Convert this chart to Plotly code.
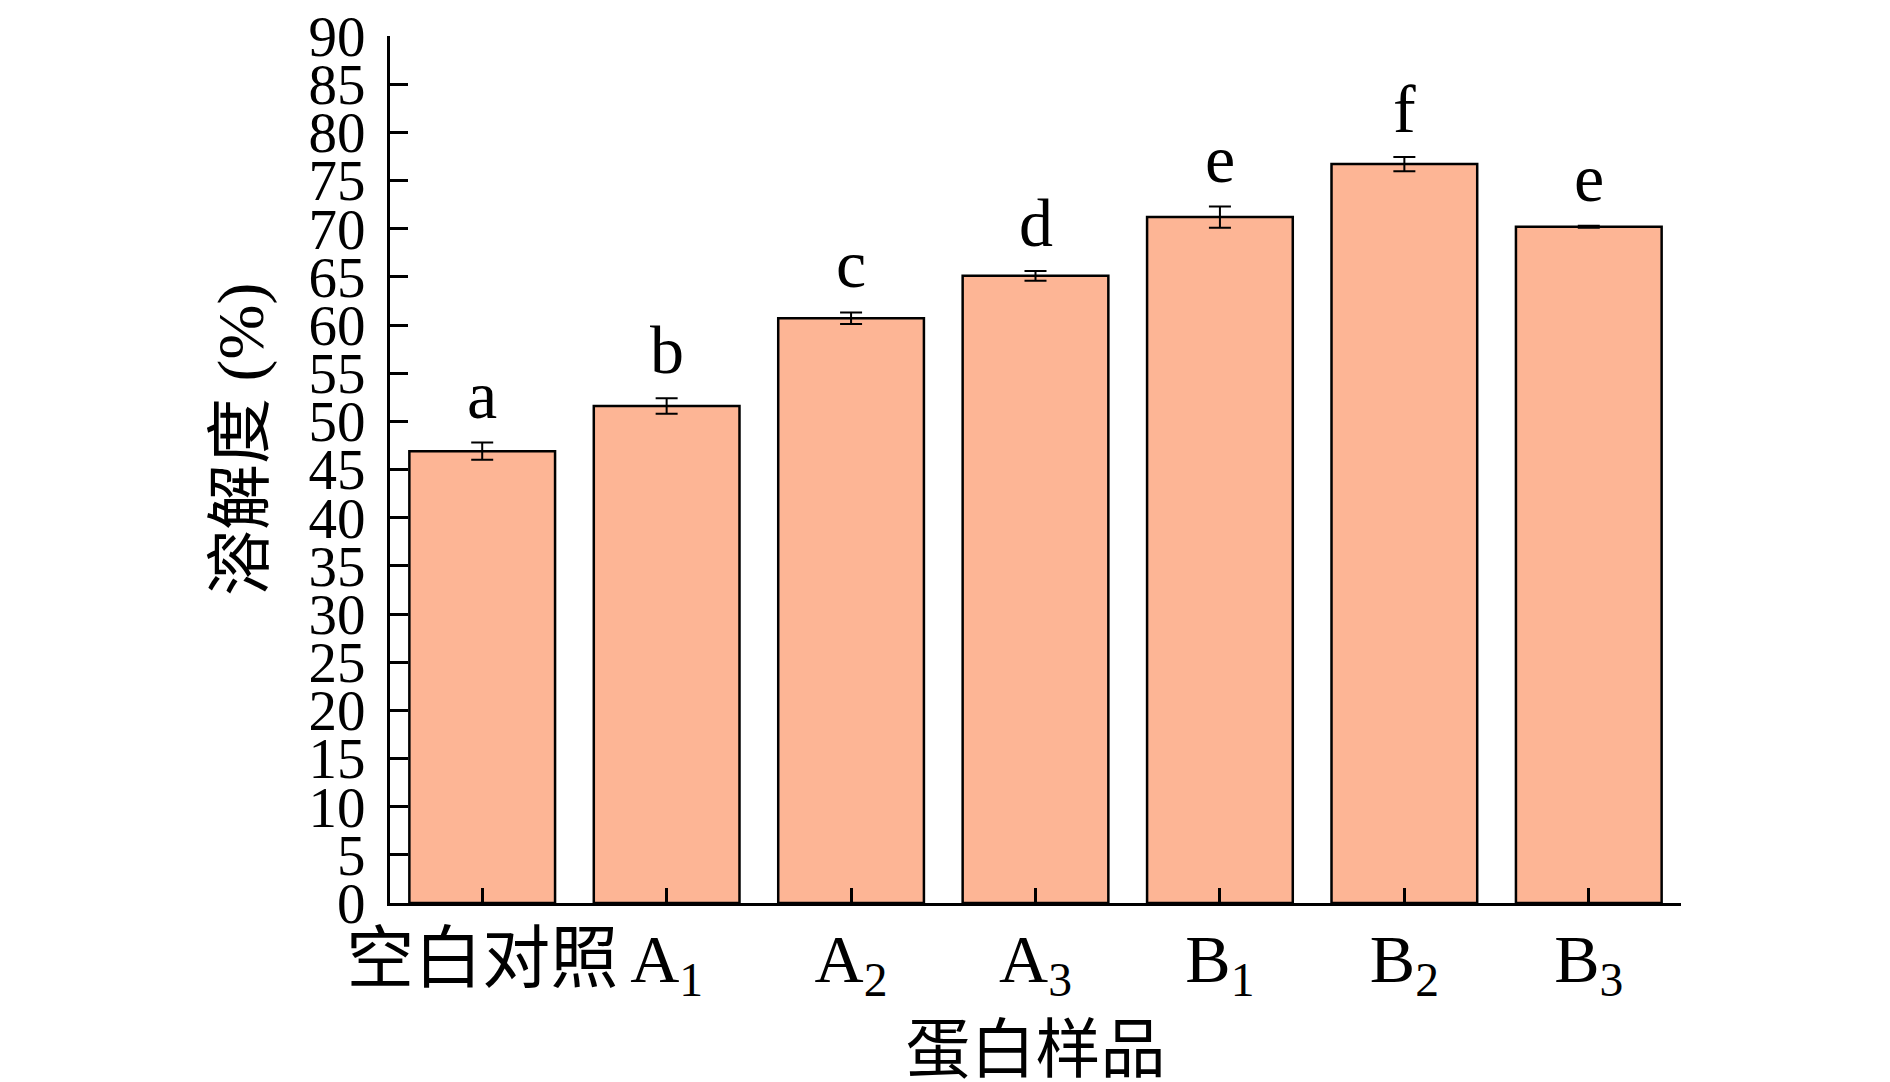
import plotly.graph_objects as go

# datos
muestras = ['空白对照', 'A<sub>1</sub>', 'A<sub>2</sub>', 'A<sub>3</sub>',
            'B<sub>1</sub>', 'B<sub>2</sub>', 'B<sub>3</sub>']
solubilidad = [46.9, 51.6, 60.7, 65.1, 71.2, 76.7, 70.2]
error = [0.9, 0.8, 0.6, 0.5, 1.1, 0.75, 0.1]
letras = ['a', 'b', 'c', 'd', 'e', 'f', 'e']

fuente = 'Liberation Serif, Times New Roman, Noto Sans CJK SC'

fig = go.Figure()
fig.add_trace(
    go.Bar(
        x=muestras,
        y=solubilidad,
        width=0.79,
        marker=dict(color='#FDB595', line=dict(color='black', width=2.5)),
        error_y=dict(type='data', array=error, color='black', thickness=2, width=11),
        showlegend=False,
    )
)

for m, v, e, l in zip(muestras, solubilidad, error, letras):
    fig.add_annotation(
        x=m, y=v + e, text=l, showarrow=False,
        yanchor='bottom', yshift=8,
        font=dict(family=fuente, size=68, color='black'),
    )

# título del eje y como anotación (va un poco por encima del centro)
fig.add_annotation(
    x=0, y=0.534, xref='paper', yref='paper',
    text='溶解度 (%)', textangle=-90, showarrow=False,
    xanchor='center', yanchor='middle', xshift=-149,
    font=dict(family=fuente, size=66, color='black'),
)

fig.update_layout(
    template='plotly_white',
    width=1890,
    height=1082,
    plot_bgcolor='white',
    paper_bgcolor='white',
    margin=dict(l=382, r=217, t=28, b=187),
    font=dict(family=fuente, color='black'),
    xaxis=dict(
        range=[-0.5, 6.5],
        automargin=False,
        showgrid=False,
        showline=True,
        linecolor='black',
        linewidth=3,
        ticks='inside',
        ticklen=15,
        tickwidth=3,
        tickcolor='black',
        tickfont=dict(size=68),
        ticklabelstandoff=-6,
        title=dict(text='蛋白样品', font=dict(size=65), standoff=22),
    ),
    yaxis=dict(
        range=[0, 90],
        dtick=5,
        automargin=False,
        showgrid=False,
        zeroline=False,
        showline=True,
        linecolor='black',
        linewidth=3,
        ticks='inside',
        ticklen=18,
        tickwidth=3,
        tickcolor='black',
        tickfont=dict(size=57),
        ticklabelstandoff=10,
        ticklabeloverflow='allow',
    ),
)

fig.write_html("out.html")
